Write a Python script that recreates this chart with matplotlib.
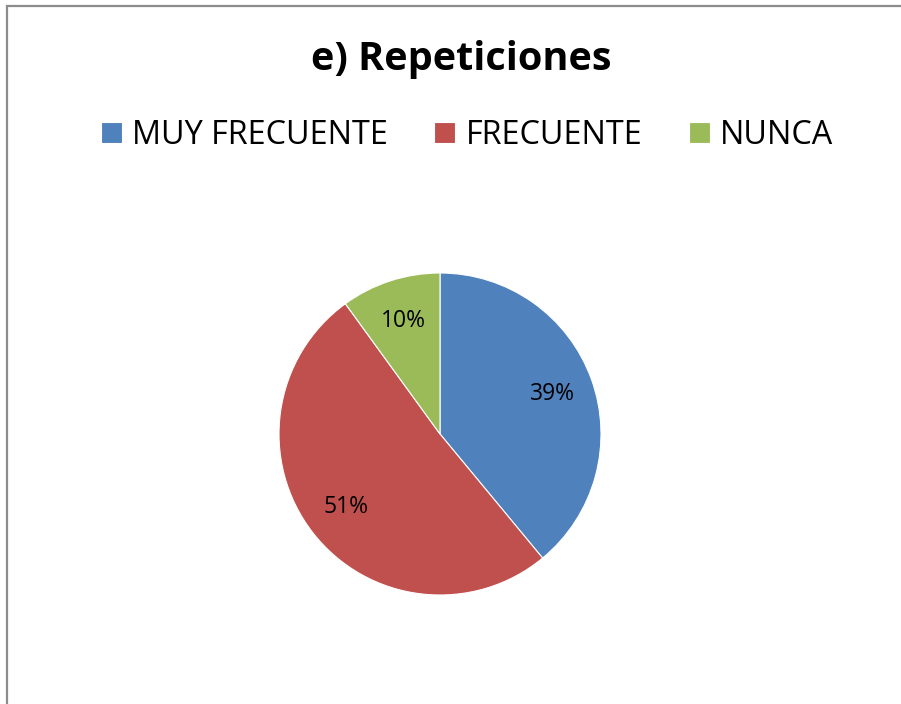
import matplotlib
matplotlib.use("Agg")
import matplotlib.pyplot as plt
from matplotlib.patches import Rectangle

categories = ["MUY FRECUENTE", "FRECUENTE", "NUNCA"]
values = [39, 51, 10]
colors = ["#4F81BD", "#C0504D", "#9BBB59"]
title = "e) Repeticiones"

plt.rcParams['font.family'] = ['Open Sans', 'DejaVu Sans']

W, H = 901, 704
fig = plt.figure(figsize=(W/100, H/100), dpi=100)
fig.patch.set_facecolor("white")

# outer border (only left and top visible, chart cropped)
fig.add_artist(Rectangle((6.5/W, -0.1), 1.2, 1 - 6.5/H + 0.1, transform=fig.transFigure,
                         fill=False, edgecolor="#8c8c8c", linewidth=1.6))

cx, cy, r = 440, 434, 161
ax = fig.add_axes([(cx - r)/W, 1 - (cy + r)/H, 2*r/W, 2*r/H])
wedges, texts, autotexts = ax.pie(values, colors=colors, startangle=90, counterclock=False,
                                  autopct=lambda p: f"{p:.0f}%", pctdistance=0.74,
                                  wedgeprops=dict(edgecolor="white", linewidth=0.8),
                                  textprops=dict(fontsize=16.5, color="black"))
ax.set_xlim(-1, 1)
ax.set_ylim(-1, 1)
ax.set_aspect("equal")
ax.axis("off")

fig.text(461/W, 1 - 70/H, title, ha="center", va="baseline", fontsize=28.5, fontweight="bold")

fs = 23.3
px = fs * 100 / 72
fig.legend(wedges, categories, loc="center", bbox_to_anchor=(467/W, 1 - 135/H), ncol=3,
           frameon=False, fontsize=fs, handlelength=21/px, handleheight=20/px,
           handletextpad=10/px, columnspacing=47/px, borderpad=0, borderaxespad=0)

fig.savefig("out.png", dpi=100)
